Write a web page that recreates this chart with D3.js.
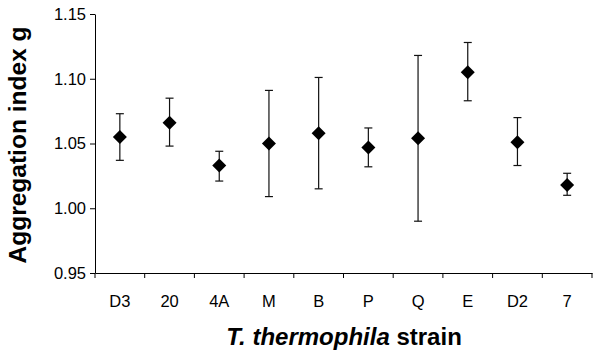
<!DOCTYPE html>
<html><head><meta charset="utf-8">
<script src="https://cdn.jsdelivr.net/npm/d3@7"></script>
<style>body{margin:0;background:#fff}svg{display:block}text{font-family:"Liberation Sans",Arial,sans-serif}</style>
</head><body><div id="c"></div>
<script>
const strains = ["D3","20","4A","M","B","P","Q","E","D2","7"];
const means   = [1.055,1.066,1.033,1.050,1.058,1.047,1.054,1.105,1.051,1.018];
const upper   = [1.073,1.085,1.044,1.091,1.101,1.062,1.118,1.128,1.070,1.027];
const lower   = [1.037,1.048,1.021,1.009,1.015,1.032,0.990,1.083,1.033,1.010];
const yTicks  = [0.95,1.00,1.05,1.10,1.15];

const W=600,H=364, L=95, R=592, T=14, B=273;
const svg=d3.select("#c").append("svg").attr("width",W).attr("height",H);
const x=d3.scaleBand().domain(strains).range([L,R]);
const y=d3.scaleLinear().domain([0.95,1.15]).range([B,T]);

// y axis
svg.append("g").attr("transform",`translate(${L},0)`)
  .call(d3.axisLeft(y).tickValues(yTicks).tickFormat(d3.format(".2f")).tickSize(5).tickPadding(4).tickSizeOuter(0))
  .call(g=>{g.selectAll("text").attr("font-size",16.5).attr("fill","#000").attr("font-family","Liberation Sans, Arial, sans-serif");
           g.selectAll("line,path").attr("stroke","#000");});

// x axis line + labels
svg.append("g").attr("transform",`translate(0,${B})`)
  .call(d3.axisBottom(x).tickSize(0).tickPadding(22).tickSizeOuter(0))
  .call(g=>{g.selectAll("text").attr("font-size",16.5).attr("fill","#000").attr("font-family","Liberation Sans, Arial, sans-serif");
           g.select("path").attr("stroke","#000");});
// ticks at band boundaries
const bounds = strains.map(s=>x(s)).concat([x(strains[strains.length-1])+x.bandwidth()]);
svg.append("g").selectAll("line").data(bounds).join("line")
  .attr("x1",d=>d).attr("x2",d=>d).attr("y1",B).attr("y2",B+5).attr("stroke","#000");

// error bars
const cx=i=>x(strains[i])+x.bandwidth()/2;
const eg=svg.append("g").attr("stroke","#111").attr("stroke-width",1.2);
strains.forEach((s,i)=>{
  eg.append("line").attr("x1",cx(i)).attr("x2",cx(i)).attr("y1",y(upper[i])).attr("y2",y(lower[i]));
  eg.append("line").attr("x1",cx(i)-4).attr("x2",cx(i)+4).attr("y1",y(upper[i])).attr("y2",y(upper[i]));
  eg.append("line").attr("x1",cx(i)-4).attr("x2",cx(i)+4).attr("y1",y(lower[i])).attr("y2",y(lower[i]));
});
// diamonds
svg.append("g").selectAll("path").data(strains).join("path")
  .attr("d",(s,i)=>{const X=cx(i),Y=y(means[i]);return `M${X},${Y-7}L${X+7},${Y}L${X},${Y+7}L${X-7},${Y}Z`;})
  .attr("fill","#000");

// titles
svg.append("text").attr("transform","translate(26,145) rotate(-90)").attr("text-anchor","middle")
  .attr("font-size",24.5).attr("font-weight","bold").text("Aggregation index g");
const xt=svg.append("text").attr("x",344).attr("y",345).attr("text-anchor","middle")
  .attr("font-size",24).attr("font-weight","bold");
xt.append("tspan").attr("font-style","italic").text("T. thermophila");
xt.append("tspan").text(" strain");
</script></body></html>
